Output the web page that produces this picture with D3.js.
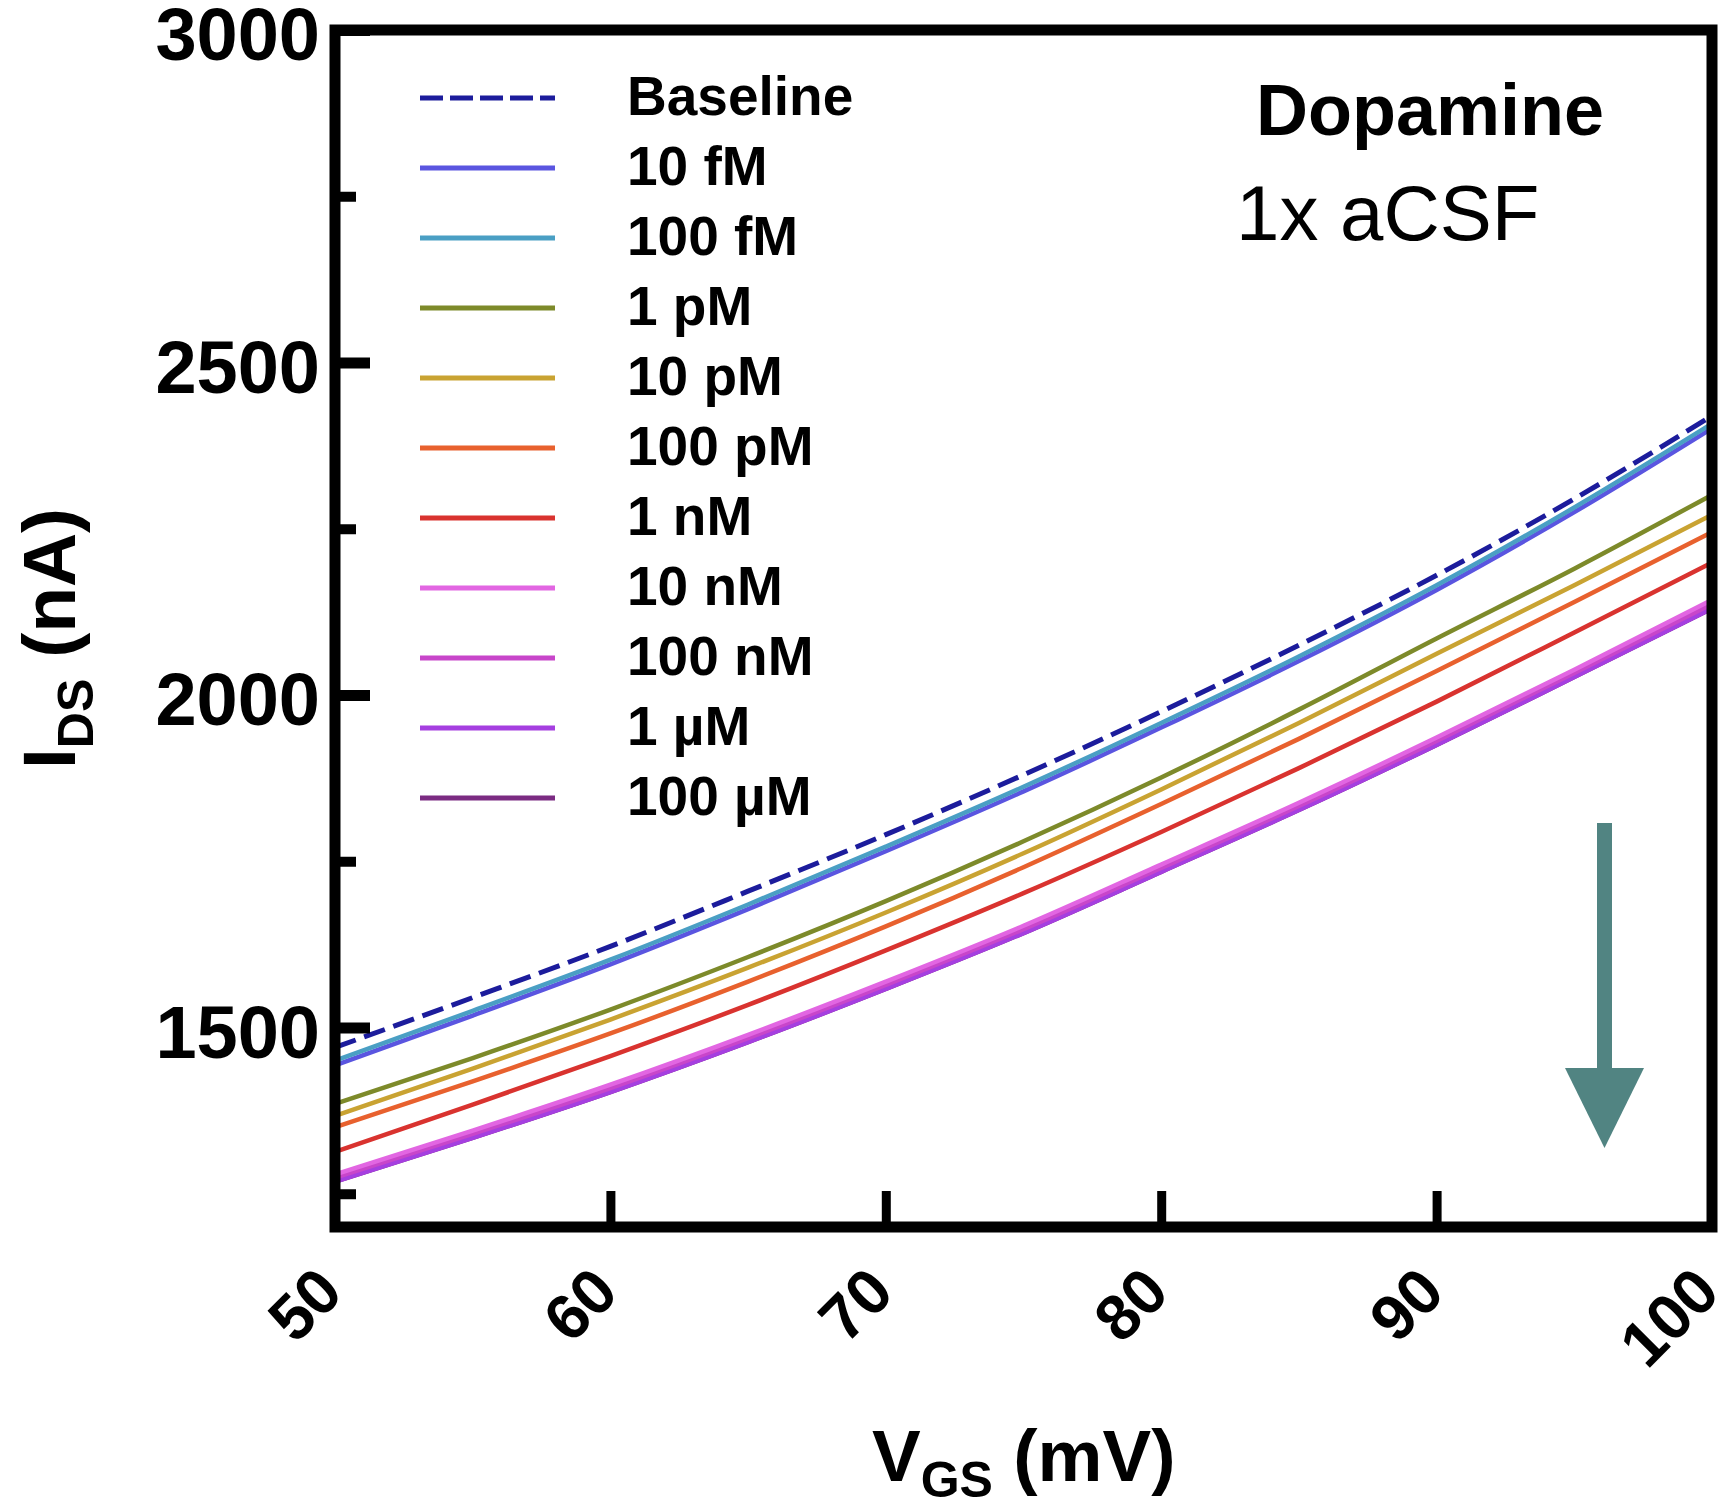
<!DOCTYPE html>
<html>
<head>
<meta charset="utf-8">
<script src="https://cdn.jsdelivr.net/npm/d3@7"></script>
<style>
  html, body { margin: 0; padding: 0; background: #ffffff; }
  svg { display: block; }
  text { font-family: "Liberation Sans", Arial, Helvetica, sans-serif; }
</style>
</head>
<body>
<svg id="chart" width="1722" height="1510"></svg>
<script>
// ---------------- data ----------------
const vgs = [50, 55, 60, 65, 70, 75, 80, 85, 90, 95, 100];

const seriesNames = ["Baseline", "10 fM", "100 fM", "1 pM", "10 pM", "100 pM",
                     "1 nM", "10 nM", "100 nM", "1 \u00B5M", "100 \u00B5M"];

const baseline = [1470, 1545, 1622, 1705, 1790, 1880, 1975, 2075, 2180, 2295, 2420];
const fM10     = [1443, 1518, 1595, 1678, 1765, 1855, 1951, 2051, 2158, 2275, 2401];
const fM100    = [1450, 1525, 1602, 1685, 1772, 1862, 1958, 2058, 2165, 2282, 2408];
const pM1      = [1385, 1454, 1527, 1606, 1690, 1780, 1876, 1978, 2085, 2190, 2301];
const pM10     = [1367, 1438, 1512, 1590, 1673, 1762, 1858, 1958, 2062, 2165, 2271];
const pM100    = [1350, 1419, 1491, 1569, 1652, 1741, 1836, 1934, 2036, 2140, 2245];
const nM1      = [1313, 1384, 1457, 1534, 1616, 1702, 1794, 1890, 1990, 2094, 2199];
const nM10     = [1279, 1345, 1414, 1489, 1569, 1653, 1745, 1838, 1936, 2038, 2143];
const nM100    = [1274, 1340, 1409, 1484, 1564, 1648, 1740, 1833, 1931, 2033, 2137];
const uM1      = [1268, 1334, 1403, 1478, 1558, 1642, 1734, 1827, 1925, 2027, 2130];
const uM100    = [1268, 1334, 1403, 1478, 1558, 1642, 1734, 1827, 1925, 2027, 2130];

const seriesValues = [baseline, fM10, fM100, pM1, pM10, pM100, nM1, nM10, nM100, uM1, uM100];

const xTicks = [50, 60, 70, 80, 90, 100];
const yTicks = [1500, 2000, 2500, 3000];
const yMinorTicks = [1250, 1750, 2250, 2750];

// ---------------- styles ----------------
const colors = ["#1c1c9c", "#5a55e0", "#4a9fc4", "#7d8a2a", "#c9a332", "#e8612e",
                "#d9332f", "#e266e2", "#c846ca", "#a53fe0", "#7b2b82"];
const drawOrder = [10, 0, 1, 2, 3, 4, 5, 6, 9, 8, 7];

const svg = d3.select("#chart");

const L = 335, R = 1712, T = 30, B = 1227;

const x = d3.scaleLinear().domain([50, 100]).range([L, R]);
const y = d3.scaleLinear().domain([1200, 3000]).range([B, T]);

// ---------------- curves ----------------
const line = d3.line()
  .x((d, i) => x(vgs[i]))
  .y(d => y(d))
  .curve(d3.curveMonotoneX);

const gLines = svg.append("g");
drawOrder.forEach(i => {
  gLines.append("path")
    .attr("d", line(seriesValues[i]))
    .attr("fill", "none")
    .attr("stroke", colors[i])
    .attr("stroke-width", i === 0 ? 5 : 4.5)
    .attr("stroke-dasharray", i === 0 ? "22,9" : null);
});

// ---------------- axes ----------------
const yAxis = d3.axisLeft(y).tickValues(yTicks).tickSize(-35).tickPadding(15)
  .tickFormat(d3.format("d"));
const gy = svg.append("g").attr("transform", `translate(${L},0)`).call(yAxis);
gy.select(".domain").remove();
gy.selectAll(".tick line").attr("stroke", "#000").attr("stroke-width", 11);
gy.selectAll(".tick text")
  .attr("fill", "#000")
  .attr("font-size", 74)
  .attr("font-weight", "bold")
  .attr("dy", "0.4em");

const yMinor = d3.axisLeft(y).tickValues(yMinorTicks).tickSize(-21).tickFormat("");
const gym = svg.append("g").attr("transform", `translate(${L},0)`).call(yMinor);
gym.select(".domain").remove();
gym.selectAll(".tick line").attr("stroke", "#000").attr("stroke-width", 10);

const xAxis = d3.axisBottom(x).tickValues(xTicks).tickSize(-36).tickFormat(d3.format("d"));
const gx = svg.append("g").attr("transform", `translate(0,${B})`).call(xAxis);
gx.select(".domain").remove();
gx.selectAll(".tick line").attr("stroke", "#000").attr("stroke-width", 9);
gx.selectAll(".tick text")
  .attr("fill", "#000")
  .attr("font-size", 64)
  .attr("font-weight", "bold")
  .attr("text-anchor", "end")
  .attr("x", 0).attr("y", 0).attr("dy", 0)
  .attr("transform", "translate(10,68) rotate(-45)");

// frame
svg.append("rect")
  .attr("x", L).attr("y", T)
  .attr("width", R - L).attr("height", B - T)
  .attr("fill", "none").attr("stroke", "#000").attr("stroke-width", 11);

// ---------------- axis titles ----------------
const xt = svg.append("text")
  .attr("x", 872).attr("y", 1481)
  .attr("font-size", 73).attr("font-weight", "bold").attr("fill", "#000");
xt.append("tspan").text("V");
xt.append("tspan").attr("font-size", 50).attr("dy", 16).text("GS");
xt.append("tspan").attr("dy", -16).text(" (mV)");

const yt = svg.append("text")
  .attr("transform", "translate(75,769) rotate(-90)")
  .attr("font-size", 75).attr("font-weight", "bold").attr("fill", "#000");
yt.append("tspan").text("I");
yt.append("tspan").attr("font-size", 50).attr("dy", 18).text("DS");
yt.append("tspan").attr("dy", -18).text(" (nA)");

// ---------------- legend ----------------
const legend = svg.append("g");
seriesNames.forEach((name, i) => {
  const ly = 98 + i * 70;
  legend.append("line")
    .attr("x1", 420).attr("x2", 555).attr("y1", ly).attr("y2", ly)
    .attr("stroke", colors[i]).attr("stroke-width", 5)
    .attr("stroke-dasharray", i === 0 ? "23,7" : null);
  legend.append("text")
    .attr("x", 627).attr("y", ly + 17)
    .attr("font-size", 55).attr("font-weight", "bold").attr("fill", "#000")
    .text(name);
});

// ---------------- annotations ----------------
svg.append("text")
  .attr("x", 1256).attr("y", 135)
  .attr("font-size", 72).attr("font-weight", "bold").attr("fill", "#000")
  .text("Dopamine");
svg.append("text")
  .attr("x", 1236).attr("y", 240)
  .attr("font-size", 78).attr("fill", "#000")
  .text("1x aCSF");

// arrow (trend indicator)
svg.append("rect")
  .attr("x", 1597).attr("y", 823).attr("width", 15).attr("height", 250)
  .attr("fill", "#518482");
svg.append("path")
  .attr("d", "M1565,1068 L1644,1068 L1604.5,1148 Z")
  .attr("fill", "#518482");
</script>
</body>
</html>
